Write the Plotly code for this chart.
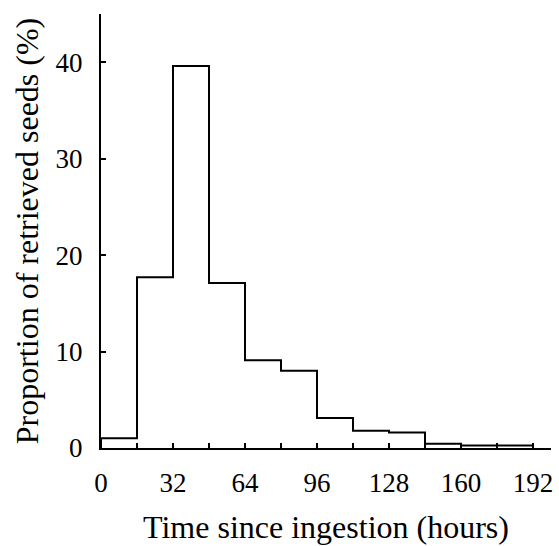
import plotly.graph_objects as go

# bin edges in hours and proportion of retrieved seeds (%) per 16 h bin
bin_edges = [0, 16, 32, 48, 64, 80, 96, 112, 128, 144, 160, 176, 192]
proportions = [1.0, 17.7, 39.6, 17.1, 9.1, 8.0, 3.1, 1.8, 1.6, 0.45, 0.25, 0.25]
x_tick_vals = [0, 16, 32, 48, 64, 80, 96, 112, 128, 144, 160, 176, 192]
x_tick_text = ["0", "", "32", "", "64", "", "96", "", "128", "", "160", "", "192"]
y_tick_vals = [0, 10, 20, 30, 40]

# step outline: (left edge, height) for each bin, then close down at the end
xs = [bin_edges[0]] + bin_edges[:-1] + [bin_edges[-1], bin_edges[-1]]
ys = [0] + proportions + [proportions[-1], 0]

fig = go.Figure(go.Scatter(
    x=xs, y=ys, mode="lines", line_shape="hv",
    line=dict(color="black", width=2), hoverinfo="skip",
))

font = dict(family="Liberation Serif, Times New Roman, serif", color="black", size=27)

fig.update_layout(
    width=559, height=546,
    margin=dict(l=101, r=6, t=14, b=98),
    plot_bgcolor="white", paper_bgcolor="white",
    showlegend=False,
    font=font,
    xaxis=dict(
        range=[0, 200], tickvals=x_tick_vals, ticktext=x_tick_text,
        ticks="inside", ticklen=5, tickwidth=1.5, tickcolor="black",
        ticklabelstandoff=10,
        showline=True, linecolor="black", linewidth=2,
        showgrid=False, zeroline=False,
        title=dict(text="Time since ingestion (hours)", standoff=18),
    ),
    yaxis=dict(
        range=[0, 45], tickvals=y_tick_vals,
        ticks="inside", ticklen=5, tickwidth=1.5, tickcolor="black",
        ticklabelstandoff=11,
        showline=True, linecolor="black", linewidth=2,
        showgrid=False, zeroline=False,
        title=dict(text="Proportion of retrieved seeds (%)", standoff=7),
    ),
)

# drop the default page margin so the figure fills the window exactly
fig.write_html(
    "out.html",
    config={"displayModeBar": False},
    post_script="document.body.style.margin='0';document.body.style.overflow='hidden';",
)
